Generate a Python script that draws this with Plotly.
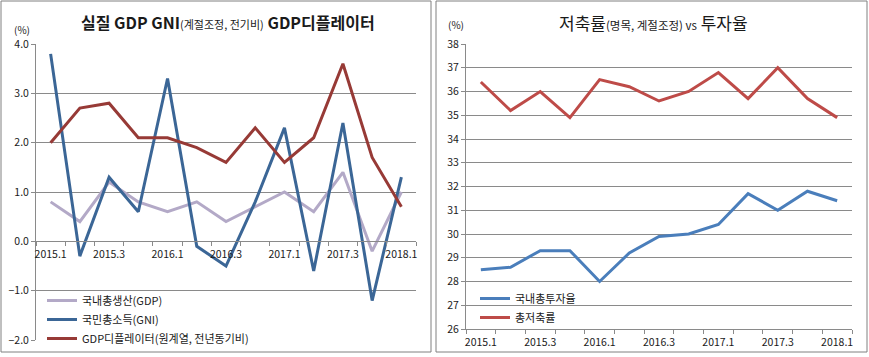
import plotly.graph_objects as go

# ---------------- data ----------------
quarters = ["2015.1", "2015.2", "2015.3", "2015.4", "2016.1", "2016.2", "2016.3",
            "2016.4", "2017.1", "2017.2", "2017.3", "2017.4", "2018.1"]
x_ticktext = ["2015.1", "", "2015.3", "", "2016.1", "", "2016.3",
              "", "2017.1", "", "2017.3", "", "2018.1"]

gdp = [0.8, 0.4, 1.2, 0.8, 0.6, 0.8, 0.4, 0.7, 1.0, 0.6, 1.4, -0.2, 1.0]
gni = [3.8, -0.3, 1.3, 0.6, 3.3, -0.1, -0.5, 0.8, 2.3, -0.6, 2.4, -1.2, 1.3]
deflator = [2.0, 2.7, 2.8, 2.1, 2.1, 1.9, 1.6, 2.3, 1.6, 2.1, 3.6, 1.7, 0.7]

invest_rate = [28.5, 28.6, 29.3, 29.3, 28.0, 29.2, 29.9, 30.0, 30.4, 31.7, 31.0, 31.8, 31.4]
saving_rate = [36.4, 35.2, 36.0, 34.9, 36.5, 36.2, 35.6, 36.0, 36.8, 35.7, 37.0, 35.7, 34.9]

left_names = ["국내총생산(GDP)", "국민총소득(GNI)", "GDP디플레이터(원계열, 전년동기비)"]
right_names = ["국내총투자율", "총저축률"]
left_ticks = [-2, -1, 0, 1, 2, 3, 4]
right_ticks = list(range(26, 39))

# ---------------- style ----------------
W, H = 869, 357
FONT = "Noto Sans CJK KR"
GRID = "#8a8a8a"
TXT = "#1a1a1a"


def px_x(p):
    return p / W


def px_y(p):
    return 1 - p / H


fig = go.Figure()

left_colors = ["#B3A9C7", "#3B6696", "#973A36"]
for name, vals, col in zip(left_names, [gdp, gni, deflator], left_colors):
    fig.add_trace(go.Scatter(x=quarters, y=vals, name=name, mode="lines",
                             line=dict(color=col, width=3),
                             xaxis="x", yaxis="y", legend="legend"))

right_colors = ["#4A7EBB", "#BE4B48"]
for name, vals, col in zip(right_names, [invest_rate, saving_rate], right_colors):
    fig.add_trace(go.Scatter(x=quarters, y=vals, name=name, mode="lines",
                             line=dict(color=col, width=3),
                             xaxis="x2", yaxis="y2", legend="legend2"))

L_x0, L_x1, L_y0, L_y1 = 36, 416, 44, 340
R_x0, R_x1, R_y0, R_y1 = 466, 852, 44, 329

ydom_left = [px_y(L_y1), px_y(L_y0)]
zero_pos = ydom_left[0] + (ydom_left[1] - ydom_left[0]) * (0 - (-2)) / 6

cat_range = [-0.5, len(quarters) - 0.5]
tickfont = dict(family=FONT, size=10.5, color=TXT)

fig.update_layout(
    width=W, height=H,
    margin=dict(l=0, r=0, t=0, b=0, autoexpand=False),
    paper_bgcolor="white", plot_bgcolor="white",
    font=dict(family=FONT, color=TXT),
    showlegend=True,
    xaxis=dict(domain=[px_x(L_x0), px_x(L_x1)], anchor="free", position=zero_pos,
               type="category", range=cat_range, tickmode="array", tickvals=quarters,
               ticktext=x_ticktext, tickson="boundaries", ticks="outside", ticklen=4,
               tickcolor=GRID, showline=True, linecolor=GRID, linewidth=1, showgrid=False,
               tickfont=tickfont, tickangle=0, automargin=False, ticklabelstandoff=3),
    yaxis=dict(domain=ydom_left, anchor="x", range=[-2, 4], tickvals=left_ticks,
               tickformat=".1f", showgrid=True, gridcolor=GRID, gridwidth=1,
               zeroline=False, showline=True, linecolor=GRID, linewidth=1,
               ticks="outside", ticklen=4, tickcolor=GRID, tickfont=tickfont,
               automargin=False),
    xaxis2=dict(domain=[px_x(R_x0), px_x(R_x1)], anchor="y2",
                type="category", range=cat_range, tickmode="array", tickvals=quarters,
                ticktext=x_ticktext, tickson="boundaries", ticks="outside", ticklen=4,
                tickcolor=GRID, showline=True, linecolor=GRID, linewidth=1, showgrid=False,
                tickfont=tickfont, tickangle=0, automargin=False, ticklabelstandoff=3),
    yaxis2=dict(domain=[px_y(R_y1), px_y(R_y0)], anchor="x2", range=[26, 38],
                tickvals=right_ticks, showgrid=True, gridcolor=GRID, gridwidth=1,
                zeroline=False, showline=True, linecolor=GRID, linewidth=1,
                ticks="outside", ticklen=4, tickcolor=GRID, tickfont=tickfont,
                automargin=False),
    legend=dict(x=px_x(42), y=px_y(286), xanchor="left", yanchor="top",
                bgcolor="rgba(0,0,0,0)", font=dict(family=FONT, size=11, color=TXT),
                tracegroupgap=0, itemwidth=30),
    legend2=dict(x=px_x(475), y=px_y(284), xanchor="left", yanchor="top",
                 bgcolor="rgba(0,0,0,0)", font=dict(family=FONT, size=11, color=TXT),
                 tracegroupgap=0, itemwidth=30),
)

# panel frames
for x0, x1 in [(1, 431), (436, 867)]:
    fig.add_shape(type="rect", xref="paper", yref="paper",
                  x0=px_x(x0), x1=px_x(x1), y0=px_y(352), y1=px_y(1),
                  line=dict(color="#808080", width=1), fillcolor="rgba(0,0,0,0)", layer="below")

# titles
fig.add_annotation(xref="paper", yref="paper", x=px_x(228), y=px_y(22),
                   xanchor="center", yanchor="middle", showarrow=False,
                   text="<b>실질 GDP GNI</b><span style='font-size:11px'>(계절조정, 전기비)</span><b> GDP디플레이터</b>",
                   font=dict(family=FONT, size=16, color=TXT))
fig.add_annotation(xref="paper", yref="paper", x=px_x(653), y=px_y(22),
                   xanchor="center", yanchor="middle", showarrow=False,
                   text="저축률<span style='font-size:11.5px'>(명목, 계절조정) vs</span> 투자율",
                   font=dict(family=FONT, size=17, color=TXT))
# unit labels
fig.add_annotation(xref="paper", yref="paper", x=px_x(22), y=px_y(29),
                   xanchor="center", yanchor="middle", showarrow=False, text="(%)",
                   font=dict(family=FONT, size=10, color=TXT))
fig.add_annotation(xref="paper", yref="paper", x=px_x(456), y=px_y(25),
                   xanchor="center", yanchor="middle", showarrow=False, text="(%)",
                   font=dict(family=FONT, size=10, color=TXT))

fig.write_html(
    "out.html",
    config={"displayModeBar": False},
    post_script="document.body.style.margin='0';document.body.style.overflow='hidden';",
)
